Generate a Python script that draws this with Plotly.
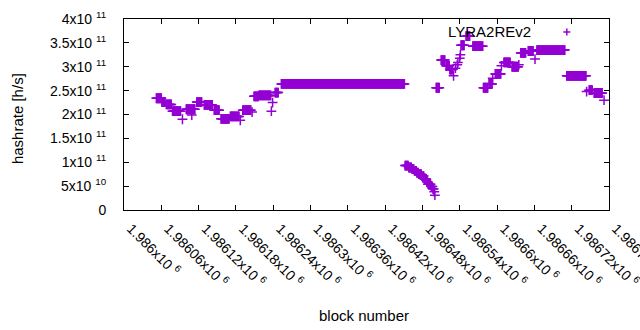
import plotly.graph_objects as go

# ---- data ----
# runs of consecutive blocks sharing a hashrate value (h/s, units of 1e11)
run_first = [1986052, 1986061, 1986068, 1986078, 1986100, 1986117, 1986129, 1986145,
             1986156, 1986171, 1986191, 1986209, 1986217, 1986243, 1986253,
             1986452, 1986458, 1986463, 1986467, 1986471, 1986474, 1986479, 1986483,
             1986487, 1986489, 1986494, 1986497, 1986499,
             1986502, 1986510, 1986518, 1986524, 1986542, 1986550, 1986561, 1986578,
             1986587, 1986597, 1986611, 1986624, 1986638, 1986650, 1986664, 1986712,
             1986748, 1986756]
run_last = [1986060, 1986066, 1986076, 1986091, 1986114, 1986125, 1986142, 1986153,
            1986169, 1986185, 1986204, 1986216, 1986236, 1986248, 1986451,
            1986457, 1986462, 1986466, 1986470, 1986473, 1986478, 1986482, 1986486,
            1986488, 1986493, 1986496, 1986498, 1986499,
            1986507, 1986516, 1986523, 1986528, 1986547, 1986556, 1986577, 1986585,
            1986592, 1986606, 1986621, 1986634, 1986646, 1986658, 1986709, 1986743,
            1986753, 1986769]
run_value = [2.34, 2.26, 2.21, 2.07, 2.11, 2.26, 2.20, 2.09,
             1.91, 1.96, 2.09, 2.38, 2.40, 2.46, 2.64,
             0.93, 0.89, 0.86, 0.82, 0.78, 0.75, 0.71, 0.65,
             0.59, 0.54, 0.49, 0.44, 0.38,
             2.56, 3.14, 3.02, 2.94, 3.45, 3.64, 3.43, 2.56,
             2.64, 2.85, 3.09, 3.00, 3.29, 3.33, 3.35, 2.81,
             2.51, 2.45]

# isolated blocks
single_block = [1986094, 1986109, 1986187, 1986206, 1986237, 1986239, 1986500,
                1986530, 1986533, 1986536, 1986537, 1986540, 1986541,
                1986593, 1986607, 1986635, 1986661, 1986744, 1986772]
single_value = [1.90, 1.99, 1.88, 2.05, 2.07, 2.25, 0.31,
                2.81, 2.97, 3.04, 3.09, 3.18, 3.25,
                2.76, 3.02, 3.04, 3.16, 2.48, 2.30]

x_tick_vals = [1986000 + 60 * k for k in range(14)]
x_tick_text = ["1.986x10 <sup>6</sup>", "1.98606x10 <sup>6</sup>", "1.98612x10 <sup>6</sup>",
               "1.98618x10 <sup>6</sup>", "1.98624x10 <sup>6</sup>", "1.9863x10 <sup>6</sup>",
               "1.98636x10 <sup>6</sup>", "1.98642x10 <sup>6</sup>", "1.98648x10 <sup>6</sup>",
               "1.98654x10 <sup>6</sup>", "1.9866x10 <sup>6</sup>", "1.98666x10 <sup>6</sup>",
               "1.98672x10 <sup>6</sup>", "1.98678x10 <sup>6</sup>"]
y_tick_vals = [0, 0.5e11, 1e11, 1.5e11, 2e11, 2.5e11, 3e11, 3.5e11, 4e11]
y_tick_text = ["0", "5x10 <sup>10</sup>", "1x10 <sup>11</sup>", "1.5x10 <sup>11</sup>",
               "2x10 <sup>11</sup>", "2.5x10 <sup>11</sup>", "3x10 <sup>11</sup>",
               "3.5x10 <sup>11</sup>", "4x10 <sup>11</sup>"]

# ---- build per-block series ----
xs, ys = [], []
for a, b, v in zip(run_first, run_last, run_value):
    for blk in range(a, b + 1):
        xs.append(blk)
        ys.append(v * 1e11)
for blk, v in zip(single_block, single_value):
    xs.append(blk)
    ys.append(v * 1e11)

COLOR = "#9400D3"
FONT = "Liberation Sans, Arial, sans-serif"

fig = go.Figure()
fig.add_trace(go.Scatter(
    x=xs, y=ys, mode="markers", name="LYRA2REv2",
    marker=dict(symbol="cross-thin", size=7, color=COLOR,
                line=dict(color=COLOR, width=1.5)),
    showlegend=False,
))

axis_common = dict(showline=True, mirror="ticks", linecolor="black", linewidth=1,
                   ticks="inside", ticklen=5, tickcolor="black", tickwidth=1,
                   showgrid=False, zeroline=False, automargin=False,
                   tickfont=dict(family=FONT, size=14, color="black"))

fig.update_xaxes(range=[1986000, 1986780], tickmode="array", tickvals=x_tick_vals,
                 ticktext=x_tick_text, tickangle=45, ticklabelstandoff=4,
                 ticklabelshift=7, ticklabeloverflow="allow", **axis_common)
fig.update_yaxes(range=[0, 4e11], tickmode="array", tickvals=y_tick_vals,
                 ticktext=y_tick_text, ticklabelstandoff=14, **axis_common)

# key (gnuplot style: text then sample)
kx, ky = 0.913, 0.932
dx, dy = 3.5 / 485, 3.5 / 191
fig.add_shape(type="line", xref="paper", yref="paper", x0=kx - dx, x1=kx + dx, y0=ky, y1=ky,
              line=dict(color=COLOR, width=1.5))
fig.add_shape(type="line", xref="paper", yref="paper", x0=kx, x1=kx, y0=ky - dy, y1=ky + dy,
              line=dict(color=COLOR, width=1.5))
fig.add_annotation(text="LYRA2REv2", xref="paper", yref="paper", x=0.843, y=ky,
                   xanchor="right", yanchor="middle", showarrow=False,
                   font=dict(family=FONT, size=15, color="black"))

fig.add_annotation(text="block number", xref="paper", yref="paper", x=0.495, y=-0.55,
                   xanchor="center", yanchor="middle", showarrow=False,
                   font=dict(family=FONT, size=15, color="black"))
fig.add_annotation(text="hashrate [h/s]", xref="paper", yref="paper", x=-0.2206, y=0.476,
                   xanchor="center", yanchor="middle", showarrow=False, textangle=-90,
                   font=dict(family=FONT, size=15, color="black"))

fig.update_layout(width=640, height=330, margin=dict(l=124, r=31, t=19, b=120),
                  plot_bgcolor="white", paper_bgcolor="white")

fig.write_html("out.html", config={"displayModeBar": False},
               post_script="document.body.style.margin='0';")
